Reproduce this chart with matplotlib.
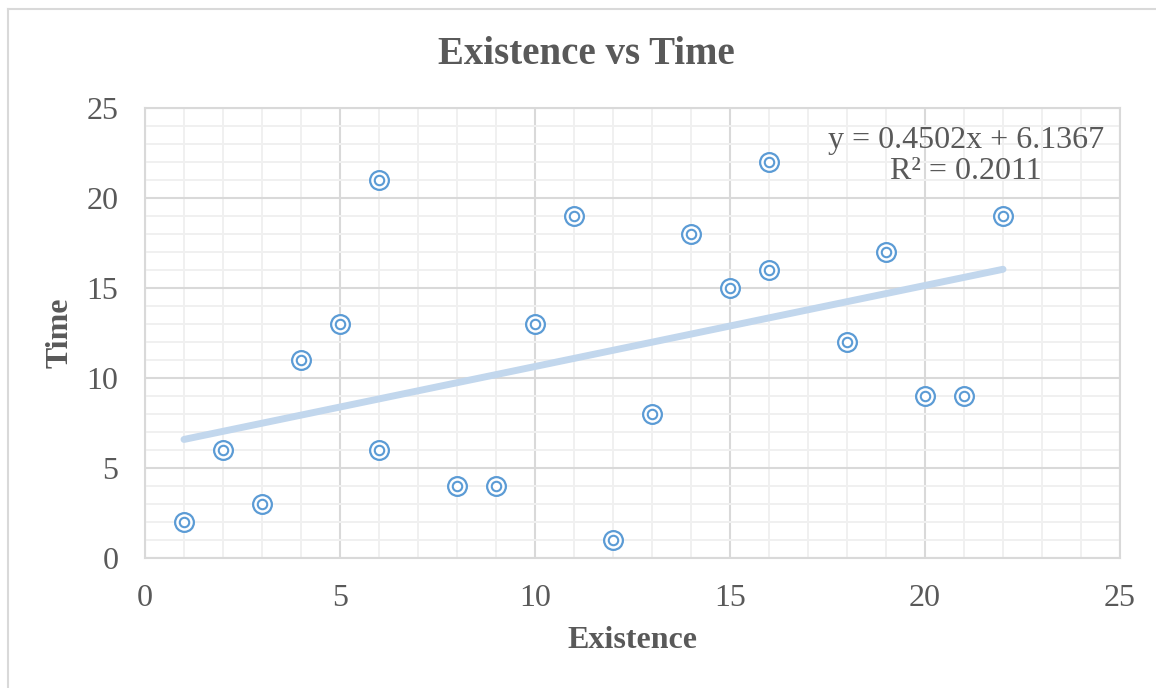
import numpy as np
import matplotlib
matplotlib.use("Agg")
import matplotlib.pyplot as plt
from matplotlib.lines import Line2D
from matplotlib.ticker import MultipleLocator

# dados
existence = [1, 2, 3, 4, 5, 6, 6, 8, 9, 10, 11, 12, 13, 14, 15, 16, 16, 18, 19, 20, 21, 22]
time_vals = [2, 6, 3, 11, 13, 21, 6, 4, 4, 13, 19, 1, 8, 18, 15, 22, 16, 12, 17, 9, 9, 19]

plt.rcParams['font.family'] = ['Liberation Serif', 'DejaVu Serif']
cinza = '#595959'
azul = '#5b9bd5'

fig = plt.figure(figsize=(11.56, 6.88), dpi=100)
ax = fig.add_axes([145 / 1156, 1 - 558 / 688, 975 / 1156, 450 / 688])

# moldura externa (só topo e esquerda aparecem)
fig.add_artist(Line2D([8 / 1156, 8 / 1156], [0, 1 - 9 / 688], transform=fig.transFigure,
                      color='#d9d9d9', lw=1.5))
fig.add_artist(Line2D([8 / 1156, 1], [1 - 9 / 688, 1 - 9 / 688], transform=fig.transFigure,
                      color='#d9d9d9', lw=1.5))

ax.set_xlim(0, 25)
ax.set_ylim(0, 25)
ax.xaxis.set_major_locator(MultipleLocator(5))
ax.yaxis.set_major_locator(MultipleLocator(5))
ax.xaxis.set_minor_locator(MultipleLocator(1))
ax.yaxis.set_minor_locator(MultipleLocator(1))
ax.grid(which='minor', color='#f0f0f0', lw=1.4, zorder=0)
ax.grid(which='major', color='#d9d9d9', lw=1.5, zorder=0)
ax.set_axisbelow(True)
for s in ax.spines.values():
    s.set_color('#d9d9d9')
    s.set_linewidth(1.5)
ax.tick_params(which='both', length=0, labelsize=23, labelcolor=cinza, pad=19)

# linha de tendência
a, b = np.polyfit(existence, time_vals, 1)
pred = np.polyval([a, b], existence)
r2 = 1 - np.sum((np.array(time_vals) - pred) ** 2) / np.sum((np.array(time_vals) - np.mean(time_vals)) ** 2)
xs = np.array([min(existence), max(existence)])
ax.plot(xs, a * xs + b, color='#c2d7ed', lw=5, solid_capstyle='round', zorder=2)

# marcadores duplos
ax.scatter(existence, time_vals, s=13.5 ** 2, facecolor='white', edgecolor=azul, linewidth=1.6, zorder=3)
ax.scatter(existence, time_vals, s=6.8 ** 2, facecolor='white', edgecolor=azul, linewidth=1.5, zorder=4)

ax.text(0.842, 0.893, 'y = %.4fx + %.4f\nR² = %.4f' % (a, b, r2), transform=ax.transAxes,
        ha='center', va='center', fontsize=23, color=cinza, linespacing=1.12)

fig.text(586 / 1156, 1 - 55 / 688, 'Existence vs Time', ha='center', va='center',
         fontsize=28, fontweight='bold', color=cinza)
ax.set_xlabel('Existence', fontsize=23, fontweight='bold', color=cinza, labelpad=9)
ax.set_ylabel('Time', fontsize=23, fontweight='bold', color=cinza, labelpad=9)

fig.savefig('out.png', dpi=100, facecolor='white')
